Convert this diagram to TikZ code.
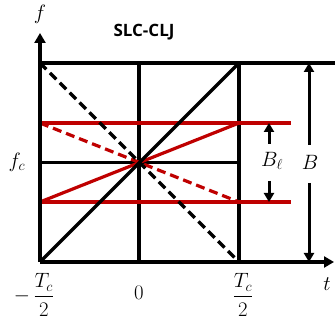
\documentclass[tikz,border=0pt]{standalone}
\usepackage{amsmath}
\usepackage{fontspec}
\newfontfamily\titlefont{Open Sans}
\usetikzlibrary{arrows.meta}
\begin{document}
\begin{tikzpicture}[x=1pt,y=-1pt,
  blk/.style={line width=3.2pt,black},
  redl/.style={line width=3.2pt,red!75!black},
  dsh/.style={dash pattern=on 9pt off 5pt},
  ax/.style={blk,-{Triangle[length=10pt,width=11pt]}},
  meas/.style={line width=3pt,-{Triangle[length=9pt,width=10pt]}},
  lbl/.style={font=\fontsize{20}{24}\selectfont},
]
\useasboundingbox (0,0) rectangle (335,320);
% coordinates
\coordinate (O) at (40,262);
\coordinate (Otop) at (40,33);
\coordinate (Tend) at (334,262);
\coordinate (TL) at (40,63);
\coordinate (TR) at (335,63);
\coordinate (MT) at (139,63);
\coordinate (MB) at (139,262);
\coordinate (RT) at (239,63);
\coordinate (RB) at (239,262);
\coordinate (CL) at (40,162.5);
\coordinate (CR) at (239,162.5);
\coordinate (C) at (139,162.5);
\coordinate (RuL) at (40,123);
\coordinate (RuM) at (239,123);
\coordinate (RuR) at (291,123);
\coordinate (RdL) at (40,202);
\coordinate (RdM) at (239,202);
\coordinate (RdR) at (291,202);
% black grid
\draw[blk] (TL) -- (TR);
\draw[blk] (MT) -- (MB);
\draw[blk] (RT) -- (RB);
\draw[blk] (CL) -- (CR);
% red lines
\draw[redl] (RuL) -- (RuR);
\draw[redl] (RdL) -- (RdR);
\draw[redl] (RdL) -- (RuM);
\draw[redl,dsh] (RuL) -- (RdM);
% black diagonals
\draw[blk] (O) -- (RT);
\draw[blk,dsh] (TL) -- (RB);
% axes
\draw[ax] (O) -- (Otop);
\draw[ax] (O) -- (Tend);
% B measurement
\node[lbl] (Blab) at (310,162) {$B$};
\coordinate (Btop) at (309,63);
\coordinate (Bbot) at (309,262);
\draw[meas] (309,145) -- (Btop);
\draw[meas] (309,183) -- (Bbot);
% B_l measurement
\node[lbl] (Bllab) at (272,161) {$B_\ell$};
\coordinate (Bltop) at (269,123);
\coordinate (Blbot) at (269,202);
\draw[meas] (269,144) -- (Bltop);
\draw[meas] (269,181) -- (Blbot);
% labels
\node[lbl] (flab) at (40,14) {$f$};
\node[lbl] (fclab) at (17,162) {$f_c$};
\node[lbl] (t1) at (34,295) {$-\,\dfrac{T_c}{2}$};
\node[lbl] (t0) at (139,293) {$0$};
\node[lbl] (t2) at (243,295) {$\dfrac{T_c}{2}$};
\node[lbl] (tlab) at (327,284) {$t$};
\node[font=\titlefont\bfseries\fontsize{17}{20}\selectfont] (title) at (144,32) {SLC-CLJ};
\end{tikzpicture}
\end{document}
